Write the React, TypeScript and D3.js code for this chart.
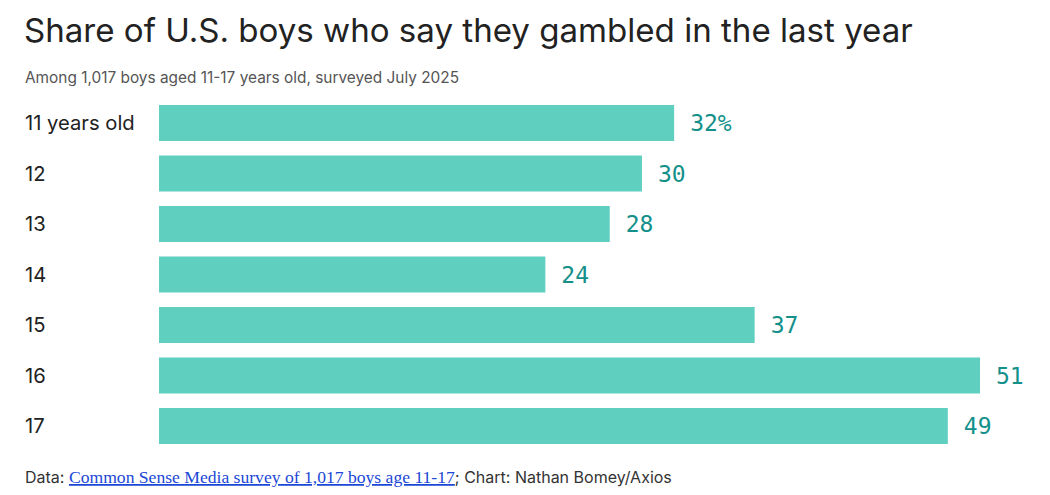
import * as d3 from 'd3'

const ages = ['11 years old', '12', '13', '14', '15', '16', '17']
const shares = [32, 30, 28, 24, 37, 51, 49]
const valueLabels = ['32%', '30', '28', '24', '37', '51', '49']

const title = 'Share of U.S. boys who say they gambled in the last year'
const subtitle = 'Among 1,017 boys aged 11-17 years old, surveyed July 2025'

const W = 1050
const H = 495

export default function App() {
  const x = d3.scaleLinear().domain([0, 51]).range([159, 980])
  const y = d3
    .scaleBand<string>()
    .domain(ages)
    .range([105, 444])
    .paddingInner(0.287)
    .paddingOuter(0)

  const sans = 'Inter, "Noto Sans", sans-serif'

  return (
    <div style={{ position: 'absolute', left: 0, top: 0 }}>
      <svg width={W} height={H} style={{ display: 'block', background: '#fff' }}>
        <text x={24} y={42} fontFamily={sans} fontSize={33.1} fill="#222">
          {title}
        </text>
        <text x={25} y={83} fontFamily={sans} fontSize={15.4} fill="#555">
          {subtitle}
        </text>

        {ages.map((a, i) => {
          const yy = y(a)!
          const mid = yy + y.bandwidth() / 2
          return (
            <g key={a}>
              <text
                x={25}
                y={mid}
                dy="0.35em"
                fontFamily={sans}
                fontSize={20.2}
                fill="#222"
              >
                {a}
              </text>
              <rect
                x={x(0)}
                y={yy}
                width={x(shares[i]) - x(0)}
                height={y.bandwidth()}
                fill="#5fcfc0"
              />
              <text
                x={x(shares[i]) + 16}
                y={mid}
                dy="0.36em"
                fontFamily='"DejaVu Sans Mono", "Liberation Mono", monospace'
                fontSize={23}
                fill="#13908a"
              >
                {valueLabels[i]}
              </text>
            </g>
          )
        })}

        <text x={25} y={483} fontFamily={sans} fontSize={16} fill="#333">
          Data:{' '}
          <tspan
            fontFamily='"Liberation Serif", "DejaVu Serif", serif'
            fontSize={17.6}
            fill="#1a47d6"
            textDecoration="underline"
          >
            Common Sense Media survey of 1,017 boys age 11-17
          </tspan>
          <tspan>; Chart: Nathan Bomey/Axios</tspan>
        </text>
      </svg>
    </div>
  )
}
